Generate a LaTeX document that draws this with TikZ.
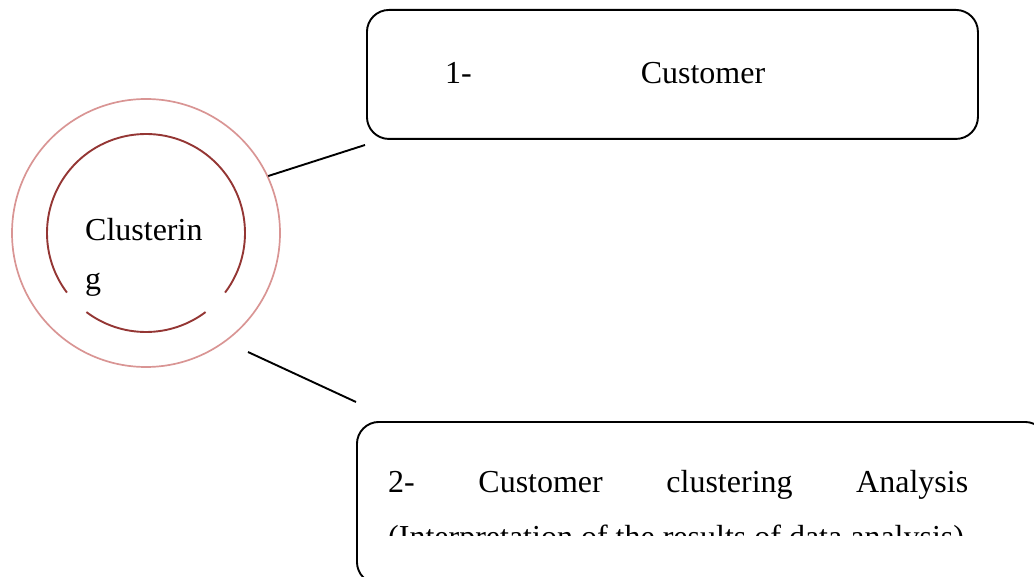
\documentclass[tikz,border=0pt]{standalone}
\usepackage{fontspec}
\setmainfont{Liberation Serif}
\usetikzlibrary{calc}

\definecolor{ringouter}{HTML}{D99594}
\definecolor{ringinner}{HTML}{943634}

\tikzset{
  stagebox/.style={draw, rounded corners=22pt, line width=1.9pt, anchor=north west, inner sep=0pt},
  stagetext/.style={anchor=base west, inner sep=0pt, font=\fontsize{32}{54}\selectfont},
  link/.style={line width=1.9pt},
}

\begin{document}
\begin{tikzpicture}[x=1pt,y=1pt]
  \path[use as bounding box, clip] (0,0) rectangle (1034,-577);

  %Clustering ring
  \node[circle, draw=ringouter, line width=1.7pt, minimum size=268pt, inner sep=0pt] (ring) at (146,-233) {};
  \draw[ringinner, line width=1.9pt] ($(ring.center)+(-37:99)$) arc[start angle=-37, end angle=217, radius=99];
  \draw[ringinner, line width=1.9pt] ($(ring.center)+(233:99)$) arc[start angle=233, end angle=307, radius=99];
  \begin{scope}
    \clip (0,0) rectangle (300,-301);
    \node[stagetext] (ringtop) at (85,-241) {Clusterin};
    \node[stagetext] (ringbot) at (85,-290) {g};
  \end{scope}

  %1- Customer
  \node[stagebox, minimum width=611pt, minimum height=129pt] (customer) at (366,-9) {};
  \node[stagetext, text width=320pt] (customertext) at (445,-84) {1-\hfill Customer};

  %2- Customer clustering Analysis
  \node[stagebox, minimum width=690pt, minimum height=162pt] (analysis) at (356,-421) {};
  \node[stagetext, text width=580pt] (analysistop) at (388,-492) {2-\hfill Customer\hfill clustering\hfill Analysis};
  \begin{scope}
    \clip (356,-421) rectangle (1034,-535);
    \node[stagetext] (analysisbot) at (388,-547) {(Interpretation of the results of data analysis)};
  \end{scope}

  %connectors
  \coordinate (customerfoot) at (365,-145);
  \coordinate (ringfoot) at (248,-352);
  \coordinate (analysishead) at (356,-402);
  \draw[link] (ring.25) -- (customerfoot);
  \draw[link] (ringfoot) -- (analysishead);
\end{tikzpicture}
\end{document}
